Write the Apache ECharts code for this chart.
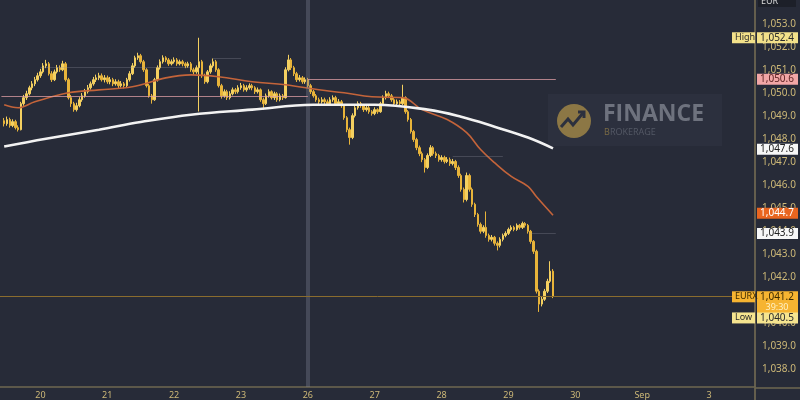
<!DOCTYPE html>
<html><head><meta charset="utf-8">
<script src="https://cdn.jsdelivr.net/npm/echarts@6/dist/echarts.min.js"></script>
<style>html,body{margin:0;padding:0;background:#272b38;}#c{width:800px;height:400px;}</style>
</head><body><div id="c"></div>
<script>
// ---------- data ----------
const dayLabels = ['20','21','22','23','26','27','28','29','30','Sep','3'];
const firstDayIndex = 14;
const hoursPerDay = 24;
const slotCount = 271;
const firstCandleIndex = 1;
const weekBreakIndex = 110;
const yTicks = [1038,1039,1040,1041,1042,1043,1044,1045,1046,1047,1048,1049,1050,1051,1052,1053];

// hourly candles: [open, close, low, high]
const candles = [
[1048.80,1048.67,1048.55,1048.92],[1048.67,1048.85,1048.58,1048.98],[1048.85,1048.59,1048.50,1048.93],[1048.59,1048.76,1048.52,1048.86],
[1048.76,1048.50,1048.42,1048.84],[1048.50,1048.41,1048.33,1048.60],[1048.41,1049.54,1048.38,1049.62],[1049.54,1049.80,1049.45,1049.92],
[1049.80,1049.97,1049.70,1050.10],[1049.97,1050.23,1049.90,1050.32],[1050.23,1050.40,1050.12,1050.52],[1050.40,1050.58,1050.30,1050.70],
[1050.58,1050.75,1050.50,1050.88],[1050.75,1050.92,1050.66,1051.05],[1050.92,1051.18,1050.85,1051.30],[1051.18,1051.27,1051.08,1051.44],
[1051.27,1050.84,1050.76,1051.35],[1050.84,1050.58,1050.48,1050.95],[1050.58,1050.92,1050.52,1051.02],[1050.92,1051.10,1050.85,1051.22],
[1051.10,1051.01,1050.92,1051.20],[1051.01,1051.27,1050.95,1051.40],[1051.27,1050.58,1050.50,1051.35],[1050.58,1049.80,1049.72,1050.66],
[1049.80,1049.54,1049.40,1049.92],[1049.54,1049.28,1049.19,1049.62],[1049.28,1049.45,1049.20,1049.58],[1049.45,1049.71,1049.38,1049.82],
[1049.71,1049.88,1049.62,1050.00],[1049.88,1050.06,1049.80,1050.18],[1050.06,1050.23,1049.98,1050.35],[1050.23,1050.40,1050.15,1050.50],
[1050.40,1050.58,1050.32,1050.70],[1050.58,1050.66,1050.48,1050.80],[1050.66,1050.75,1050.56,1050.88],[1050.75,1050.58,1050.50,1050.85],
[1050.58,1050.66,1050.46,1050.78],[1050.66,1050.49,1050.40,1050.76],[1050.49,1050.58,1050.38,1050.70],[1050.58,1050.40,1050.30,1050.66],
[1050.40,1050.49,1050.32,1050.60],[1050.49,1050.32,1050.22,1050.58],[1050.32,1050.40,1050.24,1050.52],[1050.40,1050.32,1050.20,1050.48],
[1050.32,1050.58,1050.26,1050.66],[1050.58,1050.84,1050.50,1050.95],[1050.84,1051.18,1050.78,1051.30],[1051.18,1051.53,1051.10,1051.62],
[1051.53,1051.62,1051.44,1051.75],[1051.62,1051.36,1051.28,1051.70],[1051.36,1051.01,1050.92,1051.44],[1051.01,1050.32,1050.24,1051.08],
[1050.32,1049.88,1049.80,1050.40],[1049.88,1049.71,1049.54,1049.96],[1049.71,1050.58,1049.66,1050.66],[1050.58,1051.10,1050.50,1051.20],
[1051.10,1051.36,1051.02,1051.46],[1051.36,1051.53,1051.28,1051.64],[1051.53,1051.44,1051.34,1051.60],[1051.44,1051.27,1051.18,1051.52],
[1051.27,1051.36,1051.20,1051.46],[1051.36,1051.44,1051.28,1051.55],[1051.44,1051.27,1051.18,1051.52],[1051.27,1051.36,1051.20,1051.45],
[1051.36,1051.27,1051.16,1051.44],[1051.27,1051.18,1051.08,1051.34],[1051.18,1051.27,1051.10,1051.36],[1051.27,1051.01,1050.92,1051.35],
[1051.01,1050.92,1050.80,1051.10],[1050.92,1051.10,1050.84,1051.20],[1051.10,1051.36,1049.20,1052.40],[1051.36,1050.75,1050.66,1051.44],
[1050.75,1050.49,1050.40,1050.84],[1050.49,1050.92,1050.42,1051.00],[1050.92,1051.18,1050.84,1051.28],[1051.18,1051.36,1051.10,1051.50],
[1051.36,1051.01,1050.92,1051.44],[1051.01,1050.32,1050.24,1051.08],[1050.32,1049.88,1049.76,1050.40],[1049.88,1050.06,1049.80,1050.16],
[1050.06,1049.80,1049.70,1050.14],[1049.80,1049.97,1049.72,1050.08],[1049.97,1050.14,1049.90,1050.24],[1050.14,1050.06,1049.96,1050.22],
[1050.06,1050.23,1049.98,1050.34],[1050.23,1050.32,1050.14,1050.44],[1050.32,1050.14,1050.06,1050.40],[1050.14,1050.23,1050.06,1050.34],
[1050.23,1050.32,1050.15,1050.42],[1050.32,1050.23,1050.12,1050.40],[1050.23,1050.06,1049.96,1050.30],[1050.06,1050.14,1049.98,1050.24],
[1050.14,1049.71,1049.62,1050.20],[1049.71,1049.54,1049.28,1049.80],[1049.54,1049.88,1049.48,1049.98],[1049.88,1050.06,1049.80,1050.16],
[1050.06,1049.80,1049.72,1050.12],[1049.80,1049.97,1049.70,1050.06],[1049.97,1049.71,1049.62,1050.04],[1049.71,1049.88,1049.64,1049.98],
[1049.88,1049.80,1049.70,1049.96],[1049.80,1051.01,1049.76,1051.12],[1051.01,1051.44,1050.94,1051.66],[1051.44,1051.10,1051.00,1051.52],
[1051.10,1050.84,1050.74,1051.18],[1050.84,1050.58,1050.48,1050.92],[1050.58,1050.66,1050.50,1050.78],[1050.66,1050.49,1050.40,1050.74],
[1050.49,1050.58,1050.40,1050.68],[1050.58,1050.32,1050.22,1050.66],[1050.32,1050.06,1049.96,1050.40],[1050.06,1049.88,1049.80,1050.14],
[1049.88,1049.71,1049.62,1049.96],[1049.71,1049.62,1049.52,1049.80],[1049.62,1049.71,1049.54,1049.82],[1049.71,1049.62,1049.52,1049.80],
[1049.62,1049.54,1049.44,1049.72],[1049.54,1049.71,1049.46,1049.82],[1049.71,1049.80,1049.62,1049.90],[1049.80,1049.54,1049.44,1049.88],
[1049.54,1049.62,1049.46,1049.74],[1049.62,1049.45,1049.36,1049.70],[1049.45,1048.93,1048.84,1049.52],[1048.93,1048.41,1048.30,1049.00],
[1048.41,1048.07,1047.76,1048.50],[1048.07,1049.02,1048.00,1049.12],[1049.02,1049.36,1048.94,1049.46],[1049.36,1049.54,1049.28,1049.64],
[1049.54,1049.45,1049.36,1049.62],[1049.45,1049.28,1049.18,1049.52],[1049.28,1049.36,1049.20,1049.46],[1049.36,1049.19,1049.10,1049.44],
[1049.19,1049.11,1049.02,1049.26],[1049.11,1049.28,1049.04,1049.38],[1049.28,1049.19,1049.10,1049.34],[1049.19,1049.54,1049.14,1049.62],
[1049.54,1049.80,1049.48,1049.90],[1049.80,1049.97,1049.72,1050.10],[1049.97,1049.88,1049.78,1050.06],[1049.88,1049.71,1049.62,1049.96],
[1049.71,1049.54,1049.44,1049.78],[1049.54,1049.62,1049.46,1049.72],[1049.62,1049.54,1049.44,1049.70],[1049.54,1049.80,1049.48,1050.36],
[1049.80,1049.19,1049.10,1049.86],[1049.19,1048.85,1048.76,1049.26],[1048.85,1048.33,1048.24,1048.92],[1048.33,1047.98,1047.88,1048.40],
[1047.98,1047.63,1047.52,1048.06],[1047.63,1047.37,1047.26,1047.72],[1047.37,1047.11,1047.00,1047.46],[1047.11,1046.77,1046.55,1047.18],
[1046.77,1047.29,1046.70,1047.38],[1047.29,1047.63,1047.22,1047.74],[1047.63,1047.37,1047.28,1047.70],[1047.37,1047.29,1047.18,1047.46],
[1047.29,1047.11,1047.02,1047.36],[1047.11,1047.20,1047.02,1047.30],[1047.20,1047.03,1046.94,1047.28],[1047.03,1047.11,1046.96,1047.22],
[1047.11,1046.94,1046.84,1047.20],[1046.94,1047.03,1046.86,1047.14],[1047.03,1046.77,1046.66,1047.10],[1046.77,1046.42,1046.32,1046.86],
[1046.42,1045.82,1045.72,1046.50],[1045.82,1045.38,1045.25,1045.90],[1045.38,1046.42,1045.30,1046.55],[1046.42,1045.82,1045.72,1046.50],
[1045.82,1045.17,1045.06,1045.90],[1045.17,1044.73,1044.62,1045.24],[1044.73,1044.30,1044.20,1044.80],[1044.30,1044.00,1043.90,1044.38],
[1044.00,1044.17,1043.92,1044.26],[1044.17,1043.82,1043.72,1044.86],[1043.82,1043.65,1043.55,1043.90],[1043.65,1043.74,1043.56,1043.84],
[1043.74,1043.48,1043.38,1043.80],[1043.48,1043.39,1043.17,1043.56],[1043.39,1043.65,1043.30,1043.74],[1043.65,1043.82,1043.56,1043.90],
[1043.82,1043.91,1043.74,1044.00],[1043.91,1044.08,1043.84,1044.16],[1044.08,1044.17,1044.00,1044.26],[1044.17,1044.08,1044.00,1044.24],
[1044.08,1044.26,1044.02,1044.34],[1044.26,1044.17,1044.08,1044.32],[1044.17,1044.34,1044.10,1044.42],[1044.34,1044.26,1044.16,1044.40],
[1044.26,1044.00,1043.90,1044.32],[1044.00,1043.56,1043.46,1044.06],[1043.56,1043.13,1043.02,1043.62],[1043.13,1041.40,1041.30,1043.20],
[1041.40,1040.84,1040.50,1041.48],[1040.84,1041.05,1040.74,1041.16],[1041.05,1041.40,1040.98,1041.50],[1041.40,1041.83,1041.32,1041.94],
[1041.83,1042.27,1041.76,1042.70],[1042.27,1041.18,1041.10,1042.36]
];

// moving averages: [slot index, value]
const maSlow = [[1,1047.68],[16,1048.02],[35,1048.41],[50,1048.74],[68,1049.06],[90,1049.28],[112,1049.49],[134,1049.49],[153,1049.28],[165,1048.97],[177,1048.54],[189,1048.07],[198,1047.60]];
const maFast = [[1,1049.49],[6,1049.36],[12,1049.62],[24,1050.01],[35,1050.14],[47,1050.27],[59,1050.66],[68,1050.79],[78,1050.71],[90,1050.49],[102,1050.36],[114,1050.14],[123,1050.01],[133,1049.84],[144,1049.80],[151,1049.28],[160,1048.85],[167,1048.28],[172,1047.55],[177,1046.98],[183,1046.38],[189,1045.95],[192,1045.51],[198,1044.70]];

// level lines: [price, fromSlot, toSlot]
const pinkLevels = [[1049.84,0,110],[1050.6,110,199]];
const faintLevels = [[1051.1,14,68],[1051.5,76,86],[1047.24,162,180],[1043.9,190,199]];
const lastPrice = 1041.2;

// price tags on the right scale
const tagNames  = ['High','','','','','EURX','Low'];
const tagPrices = [1052.4,1050.6,1047.6,1044.7,1043.9,1041.2,1040.5];
const countdown = '39:30';

// ---------- chart ----------
const fmt = v => Number(v).toLocaleString('en-US',{minimumFractionDigits:1,maximumFractionDigits:1});
const isDayStart = i => i >= firstDayIndex && (i - firstDayIndex) % hoursPerDay === 0 && (i - firstDayIndex) / hoursPerDay < dayLabels.length;
const categories = Array.from({length: slotCount}, (_, i) => 'h' + i);
const candleData = Array.from({length: slotCount}, () => '-');
candles.forEach((c, k) => { candleData[firstCandleIndex + k] = c; });

const chart = echarts.init(document.getElementById('c'), null, {renderer: 'canvas'});
const GRID = {left: 0, right: 45, top: 0, bottom: 12};
const gold = '#cdb877';

const markData = [];
markData.push({xAxis: weekBreakIndex, lineStyle: {color: 'rgba(125,130,148,0.35)', width: 4, type: 'solid'}});
pinkLevels.forEach(l => markData.push([{coord: [l[1], l[0]], lineStyle: {color: 'rgba(226,160,165,0.75)', width: 1.2, type: 'solid'}}, {coord: [l[2], l[0]]}]));
faintLevels.forEach(l => markData.push([{coord: [l[1], l[0]], lineStyle: {color: 'rgba(150,150,165,0.28)', width: 1, type: 'solid'}}, {coord: [l[2], l[0]]}]));
markData.push({yAxis: lastPrice, lineStyle: {color: '#8a6c2e', width: 1, type: 'solid'}});

chart.setOption({
  animation: false,
  backgroundColor: '#272b38',
  grid: GRID,
  xAxis: {
    type: 'category', data: categories, boundaryGap: true,
    axisLine: {show: true, lineStyle: {color: '#6f6850', width: 1.5}},
    axisTick: {show: false},
    splitLine: {show: false},
    axisLabel: {
      interval: i => isDayStart(i),
      formatter: (v, i) => isDayStart(i) ? dayLabels[(i - firstDayIndex) / hoursPerDay] : '',
      color: gold, fontSize: 9, margin: 4, fontFamily: 'Noto Sans'
    }
  },
  yAxis: {
    type: 'value', position: 'right', min: 1037.242, max: 1054.039, scale: true,
    axisLine: {show: true, lineStyle: {color: '#7a7055', width: 1.5}},
    axisTick: {show: false},
    splitLine: {show: false},
    axisLabel: {customValues: yTicks, formatter: v => fmt(v), color: gold, fontSize: 10, margin: 7, fontFamily: 'Noto Sans'}
  },
  series: [
    {
      type: 'candlestick', data: candleData, barWidth: 2, z: 3,
      itemStyle: {color: '#f4d060', color0: '#e8b43a', borderColor: '#f4d060', borderColor0: '#e8b43a', borderWidth: 1},
      markLine: {symbol: ['none','none'], silent: true, animation: false, label: {show: false}, data: markData}
    },
    {type: 'line', data: maFast, smooth: 0.4, showSymbol: false, z: 4, lineStyle: {color: '#c4643a', width: 1.6}},
    {type: 'line', data: maSlow, smooth: 0.4, showSymbol: false, z: 5, lineStyle: {color: '#f2f2f2', width: 2.6}}
  ]
});

// ---------- overlays ----------
const W = chart.getWidth(), H = chart.getHeight();
const axisX = W - GRID.right;
const gridBottom = H - GRID.bottom;
const yAt = p => chart.convertToPixel({yAxisIndex: 0}, p);
const tagStyle = [
  {bg: '#f3e18a', fg: '#2b2b2b', shift: 0},
  {bg: '#f2a6a6', fg: '#5e2323', shift: 0},
  {bg: '#f7f7f7', fg: '#222222', shift: 1},
  {bg: '#e9651f', fg: '#ffffff', shift: -2},
  {bg: '#f7f7f7', fg: '#222222', shift: 0},
  {bg: '#f6b431', fg: '#3a2a00', shift: 1},
  {bg: '#f5e48f', fg: '#2b2b2b', shift: 6}
];
const txt = (s, x, y, fill, font, align) => ({type: 'text', z: 101, style: {text: s, x: x, y: y, fill: fill, font: font, align: align, verticalAlign: 'middle', textAlign: align, textVerticalAlign: 'middle'}});
const rect = (x, y, w, h, fill, z) => ({type: 'rect', z: z || 100, shape: {x: x, y: y, width: w, height: h}, style: {fill: fill}});

const g = [];
// watermark
g.push(rect(548, 94, 174, 52, '#2c303e', 1));
g.push({type: 'circle', z: 1, shape: {cx: 574, cy: 121, r: 17}, style: {fill: '#8c7745'}});
g.push({type: 'polyline', z: 1, shape: {points: [[561,127],[568,119],[573,125],[583,113]]}, style: {stroke: '#2c303e', lineWidth: 3, fill: null}});
g.push({type: 'polyline', z: 1, shape: {points: [[578,112],[584,112],[584,118]]}, style: {stroke: '#2c303e', lineWidth: 3, fill: null}});
g.push({type: 'text', z: 1, style: {text: 'FINANCE', x: 603, y: 114, fill: '#6e727e', font: 'bold 23px "Open Sans", "DejaVu Sans", sans-serif', verticalAlign: 'middle', textVerticalAlign: 'middle'}});
g.push({type: 'text', z: 1, style: {text: 'B', x: 604, y: 132, fill: '#7a6a44', font: '9px "Open Sans", sans-serif', verticalAlign: 'middle', textVerticalAlign: 'middle'}});
g.push({type: 'text', z: 1, style: {text: 'ROKERAGE', x: 610, y: 132, fill: '#545865', font: '9px "Open Sans", sans-serif', verticalAlign: 'middle', textVerticalAlign: 'middle'}});
// axis extensions
g.push({type: 'line', z: 50, shape: {x1: axisX, y1: gridBottom, x2: axisX, y2: H}, style: {stroke: '#7a7055', lineWidth: 1.5}});
g.push({type: 'line', z: 50, shape: {x1: axisX, y1: gridBottom, x2: W, y2: gridBottom}, style: {stroke: '#6f6850', lineWidth: 1.5}});
// clipped symbol box at top
g.push(rect(axisX + 3, 0, 38, 7, '#1d2029', 100));
g.push(txt('EUR', axisX + 6, 1, '#d8d8d8', '9px "Noto Sans", sans-serif', 'left'));
// price tags
tagPrices.forEach((p, k) => {
  const s = tagStyle[k];
  const yc = yAt(p) + s.shift;
  const name = tagNames[k];
  if (name) {
    g.push(rect(axisX - 23, yc - 5.5, 23, 11, s.bg));
    g.push(txt(name, axisX - 20, yc, s.fg, '9px "Noto Sans", sans-serif', 'left'));
  }
  const h = name === 'EURX' ? 22 : 11;
  g.push(rect(axisX + 2, yc - 5.5, 41, h, s.bg));
  g.push(txt(fmt(p), axisX + 22, yc, s.fg, '10px "Noto Sans", sans-serif', 'center'));
  if (name === 'EURX') g.push(txt(countdown, axisX + 22, yc + 10.5, '#fff1c4', '9px "Noto Sans", sans-serif', 'center'));
});
chart.setOption({graphic: {elements: g}});
</script>
</body></html>
